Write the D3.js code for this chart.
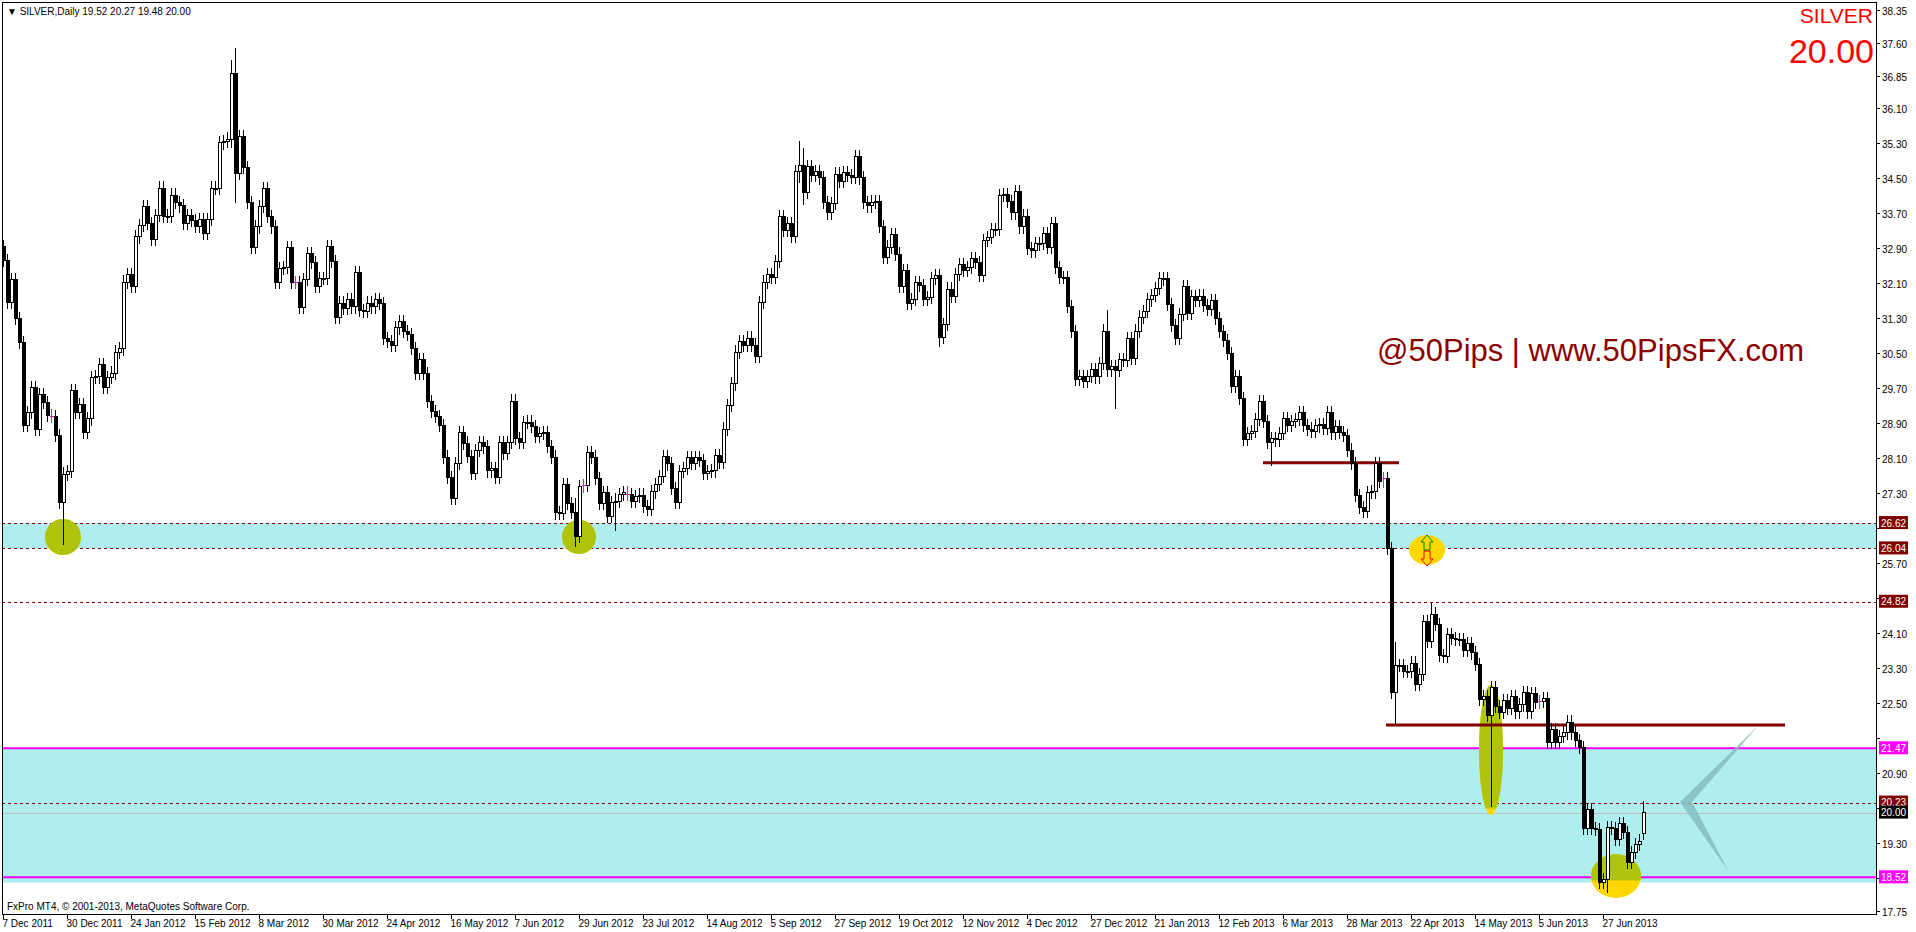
<!DOCTYPE html>
<html>
<head>
<meta charset="utf-8">
<script src="https://cdn.jsdelivr.net/npm/d3@7"></script>
<style>
  body { margin: 0; background: #fff; }
  svg { display: block; font-family: "Liberation Sans", Arial, sans-serif; }
</style>
</head>
<body>
<svg id="chart" width="1916" height="932"></svg>
<script>
// Daily closes (Dec 2011 - Jul 2013)
var closes = [
  32.63,31.67,32.18,31.29,30.74,28.86,29.14,29.71,28.77,29.55,29.37,29.07,29.05,28.63,27.08,27.72,27.79,29.66,29.14,29.32,
  28.70,29.00,29.94,29.96,30.24,29.71,29.94,30.05,30.53,30.60,32.13,32.31,32.02,33.16,33.43,33.85,33.46,33.11,33.66,34.28,
  33.64,33.64,34.12,33.94,33.87,33.48,33.66,33.53,33.41,33.55,33.25,33.57,34.28,34.28,35.31,35.35,35.40,36.89,34.62,35.45,
  34.74,33.94,32.91,33.39,33.85,34.26,33.62,33.39,32.13,32.43,32.47,32.91,32.11,32.11,31.54,32.18,32.79,32.57,32.02,32.22,
  32.22,32.95,32.59,31.33,31.65,31.52,31.74,31.56,32.34,31.47,31.45,31.65,31.56,31.74,31.63,30.83,30.78,30.67,31.08,31.22,
  30.99,30.94,30.62,30.05,30.35,30.03,29.39,29.18,29.05,28.86,28.13,27.67,27.19,27.99,28.70,28.45,28.15,27.76,28.27,28.47,
  28.36,27.81,27.86,27.67,28.47,28.22,28.47,29.41,28.56,28.47,28.91,28.93,28.82,28.61,28.66,28.68,28.38,28.13,26.85,26.83,
  27.51,27.06,26.87,26.32,27.45,27.47,28.24,28.13,27.63,27.06,27.31,26.76,27.08,27.12,27.28,27.31,27.28,27.12,27.22,27.26,
  26.99,26.94,27.33,27.51,27.69,28.15,27.97,27.40,27.08,27.79,27.86,28.11,27.99,28.11,28.06,27.76,27.79,27.81,28.17,28.01,
  28.77,29.30,29.80,30.53,30.76,30.67,30.85,30.69,30.42,31.67,32.13,32.31,32.24,32.59,33.62,33.30,33.46,33.18,34.65,34.80,
  34.17,34.78,34.56,34.65,34.51,33.94,33.71,33.92,34.60,34.44,34.63,34.56,34.53,34.99,34.51,33.94,33.87,33.96,33.98,33.41,
  32.70,32.93,33.21,32.77,32.02,32.40,31.65,31.74,32.11,32.06,31.74,31.77,32.22,32.27,30.87,31.15,31.97,31.79,32.31,32.54,
  32.40,32.47,32.66,32.57,32.27,33.09,33.14,33.34,33.34,34.10,34.14,33.98,33.71,34.21,33.39,33.64,32.89,32.84,33.00,33.02,
  33.23,32.93,33.46,32.47,32.24,32.24,31.58,30.99,29.91,29.98,29.85,29.98,30.14,29.96,30.26,31.01,30.12,30.19,30.10,30.35,
  30.33,30.83,30.39,31.01,31.33,31.45,31.72,31.83,31.99,32.20,32.22,31.61,31.13,30.85,31.38,32.02,31.42,31.79,31.70,31.81,
  31.60,31.50,31.70,31.30,31.00,30.80,30.50,29.75,29.96,29.46,28.54,28.66,28.72,28.98,29.39,28.95,28.47,28.56,28.52,28.66,
  29.00,28.86,28.95,28.98,29.14,28.86,28.77,28.72,28.84,28.88,28.79,29.14,28.68,28.82,28.70,28.63,28.29,27.99,27.24,26.97,
  26.89,27.31,27.33,27.97,27.58,27.63,26.04,22.74,23.37,23.37,23.22,23.22,23.42,22.92,23.15,24.36,23.92,24.54,24.31,23.60,
  23.58,24.08,23.99,23.95,23.95,23.70,23.86,23.65,23.38,22.58,22.65,22.21,22.87,22.42,22.28,22.56,22.37,22.65,22.30,22.46,
  22.74,22.30,22.72,22.51,22.53,22.60,21.60,21.89,21.60,21.74,21.82,22.07,21.82,21.64,21.48,19.63,20.08,19.63,19.61,18.41,
  18.46,19.65,19.63,19.38,19.76,19.54,18.87,19.08,19.28,19.35,20.00
];
var firstOpen = 32.95;
var lastOpen = 19.52;
// Long wicks that stand out: [bar, high, low]
var wicks = [
  [15, 27.9, 26.12], [57, 37.20, 35.2], [58, 37.48, 33.94], [143, 27.2, 26.07], [144, 27.6, 26.2],
  [153, 27.3, 26.44], [199, 35.35, 34.4], [200, 35.2, 33.9], [234, 32.3, 30.65], [276, 31.49, 30.0], [278, 30.3, 29.23],
  [317, 28.7, 27.92], [346, 27.67, 25.89], [347, 26.1, 22.6], [348, 23.9, 22.03], [357, 24.79, 24.2], [372, 22.95, 20.13],
  [399, 19.7, 18.35], [401, 19.8, 18.16], [410, 20.27, 19.48]
];
var dojiBars = [12, 73, 145, 156, 345, 384];
var dateLabels = ['7 Dec 2011','30 Dec 2011','24 Jan 2012','15 Feb 2012','8 Mar 2012','30 Mar 2012','24 Apr 2012',
  '16 May 2012','7 Jun 2012','29 Jun 2012','23 Jul 2012','14 Aug 2012','5 Sep 2012','27 Sep 2012','19 Oct 2012',
  '12 Nov 2012','4 Dec 2012','27 Dec 2012','21 Jan 2013','12 Feb 2013','6 Mar 2013','28 Mar 2013','22 Apr 2013',
  '14 May 2013','5 Jun 2013','27 Jun 2013'];
var priceTicks = [38.35,37.60,36.85,36.10,35.30,34.50,33.70,32.90,32.10,31.30,30.50,29.70,28.90,28.10,27.30,26.50,
  25.70,24.90,24.10,23.30,22.50,21.70,20.90,20.10,19.30,18.50,17.75];
var levelLabels = [
  {v: 26.62, bg: '#800000'}, {v: 26.04, bg: '#800000'}, {v: 24.82, bg: '#800000'}, {v: 21.47, bg: '#ff00ff'},
  {v: 20.23, bg: '#800000'}, {v: 20.00, bg: '#000000'}, {v: 18.52, bg: '#ff00ff'}
];

var plotRight = 1876, plotBottom = 914;
var svg = d3.select('#chart');
var y = d3.scaleLinear().domain([17.75, 38.35]).range([911, 10]);
var x = d3.scaleLinear().domain([0, 1]).range([3, 7]);

// Build candles
var bars = closes.map(function(c, i) {
  var o = i === 0 ? firstOpen : (i === closes.length - 1 ? lastOpen : closes[i - 1]);
  return {i: i, o: o, c: c, h: Math.max(o, c) + 0.15, l: Math.min(o, c) - 0.15};
});
wicks.forEach(function(w) { bars[w[0]].h = Math.max(bars[w[0]].h, w[1]); bars[w[0]].l = Math.min(bars[w[0]].l, w[2]); });

var plot = svg.append('g');

// Zones
plot.append('rect').attr('x', 2).attr('width', plotRight - 2)
  .attr('y', y(26.62)).attr('height', y(26.04) - y(26.62)).attr('fill', '#afeeee');
plot.append('rect').attr('x', 2).attr('width', plotRight - 2)
  .attr('y', y(21.47)).attr('height', y(18.40) - y(21.47)).attr('fill', '#afeeee');

// Dashed levels
[26.62, 26.04, 24.82, 20.23].forEach(function(v) {
  plot.append('line').attr('x1', 2).attr('x2', plotRight).attr('y1', Math.round(y(v)) + 0.5).attr('y2', Math.round(y(v)) + 0.5)
    .attr('stroke', '#800000').attr('stroke-dasharray', '3,3');
});
plot.append('line').attr('x1', 2).attr('x2', plotRight).attr('y1', Math.round(y(20)) + 0.5).attr('y2', Math.round(y(20)) + 0.5)
  .attr('stroke', '#c0c0c0');
[21.47, 18.52].forEach(function(v) {
  plot.append('line').attr('x1', 2).attr('x2', plotRight).attr('y1', y(v)).attr('y2', y(v))
    .attr('stroke', '#ff00ff').attr('stroke-width', 2);
});

// Highlight ellipses
function blob(cx, cy, rx, ry, greenTop) {
  plot.append('ellipse').attr('cx', cx).attr('cy', cy).attr('rx', rx).attr('ry', ry).attr('fill', '#ffd700');
  if (greenTop) {
    plot.append('clipPath').attr('id', 'cp' + cx).append('rect')
      .attr('x', cx - rx).attr('y', cy - ry).attr('width', 2 * rx).attr('height', ry * greenTop);
    plot.append('ellipse').attr('cx', cx).attr('cy', cy).attr('rx', rx).attr('ry', ry)
      .attr('fill', '#afc40c').attr('clip-path', 'url(#cp' + cx + ')');
  }
}
blob(63, 537, 18, 18, 2);
blob(579, 537, 17, 17, 2);
blob(1427, 550, 18, 15, 0);
blob(1491, 750, 12, 65, 1.9);
blob(1616, 876, 25, 22, 1.2);

// Arrows in the upper-right yellow blob
plot.append('path').attr('d', 'M1427,535 l-6,7 h3 v8 h6 v-8 h3 z').attr('fill', 'none').attr('stroke', '#008000');
plot.append('path').attr('d', 'M1427,566 l-6,-7 h3 v-8 h6 v8 h3 z').attr('fill', 'none').attr('stroke', '#ff0000');

// Chevron drawing
plot.append('path').attr('d', 'M1758,726 L1680,802 L1729,872 L1692,802 Z').attr('fill', '#85bcbe').attr('opacity', 0.85);
plot.append('path').attr('d', 'M1758,726 L1740,744 L1737,746 Z').attr('fill', '#cccccc');

// Trend levels (thick dark red)
plot.append('line').attr('x1', 1263).attr('x2', 1399).attr('y1', y(28.0)).attr('y2', y(28.0))
  .attr('stroke', '#800000').attr('stroke-width', 3);
plot.append('line').attr('x1', 1386).attr('x2', 1785).attr('y1', y(22.0)).attr('y2', y(22.0))
  .attr('stroke', '#800000').attr('stroke-width', 3);

// Candles
var magenta = new Set(dojiBars);
var cg = plot.append('g').attr('shape-rendering', 'crispEdges');
bars.forEach(function(b) {
  var cx = Math.round(x(b.i)) + 0.5;
  var col = magenta.has(b.i) ? '#ff00ff' : '#000';
  cg.append('line').attr('x1', cx).attr('x2', cx).attr('y1', y(b.h)).attr('y2', y(b.l)).attr('stroke', col);
  var top = y(Math.max(b.o, b.c)), bot = y(Math.min(b.o, b.c));
  if (magenta.has(b.i)) {
    cg.append('line').attr('x1', cx - 2).attr('x2', cx + 2).attr('y1', y(b.c)).attr('y2', y(b.c)).attr('stroke', col);
  } else {
    cg.append('rect').attr('x', cx - 1.5).attr('width', 3).attr('y', top).attr('height', Math.max(bot - top, 1))
      .attr('fill', b.c >= b.o ? '#fff' : '#000').attr('stroke', '#000');
  }
});

// Frame
svg.append('rect').attr('x', 2.5).attr('y', 2.5).attr('width', plotRight - 2).attr('height', plotBottom - 2)
  .attr('fill', 'none').attr('stroke', '#000');

// Price axis (tick labels hidden where a level label sits on top, as in the terminal)
var ax = svg.append('g').attr('font-size', 10);
priceTicks.forEach(function(v) {
  var yy = Math.round(y(v)) + 0.5;
  ax.append('line').attr('x1', plotRight + 0.5).attr('x2', plotRight + 4).attr('y1', yy).attr('y2', yy).attr('stroke', '#000');
  var covered = levelLabels.some(function(d) { return Math.abs(y(d.v) - yy) < 12; });
  if (!covered) ax.append('text').attr('x', plotRight + 6).attr('y', yy + 4).text(v.toFixed(2));
});
levelLabels.forEach(function(d) {
  var yy = y(d.v);
  ax.append('rect').attr('x', plotRight + 3).attr('y', yy - 7).attr('width', 29).attr('height', 13).attr('fill', d.bg);
  ax.append('text').attr('x', plotRight + 5).attr('y', yy + 3.5).attr('fill', '#fff').text(d.v.toFixed(2));
});

// Date axis
dateLabels.forEach(function(t, k) {
  var xx = Math.round(x(k * 16)) + 0.5;
  ax.append('line').attr('x1', xx).attr('x2', xx).attr('y1', plotBottom).attr('y2', plotBottom + 5).attr('stroke', '#000');
  ax.append('text').attr('x', xx - 1).attr('y', 927).text(t);
});

// Texts
svg.append('text').attr('x', 7).attr('y', 15).attr('font-size', 10).text('\u25BC SILVER,Daily  19.52 20.27 19.48 20.00');
svg.append('text').attr('x', 7).attr('y', 910).attr('font-size', 10).text('FxPro MT4, \u00A9 2001-2013, MetaQuotes Software Corp.');
svg.append('text').attr('x', 1873).attr('y', 23).attr('text-anchor', 'end').attr('fill', '#ff0000')
  .attr('font-size', 21).text('SILVER');
svg.append('text').attr('x', 1874).attr('y', 63).attr('text-anchor', 'end').attr('fill', '#ff0000')
  .attr('font-size', 34).text('20.00');
svg.append('text').attr('x', 1377).attr('y', 361).attr('fill', '#8b0000')
  .attr('font-size', 31).text('@50Pips | www.50PipsFX.com');
</script>
</body>
</html>
